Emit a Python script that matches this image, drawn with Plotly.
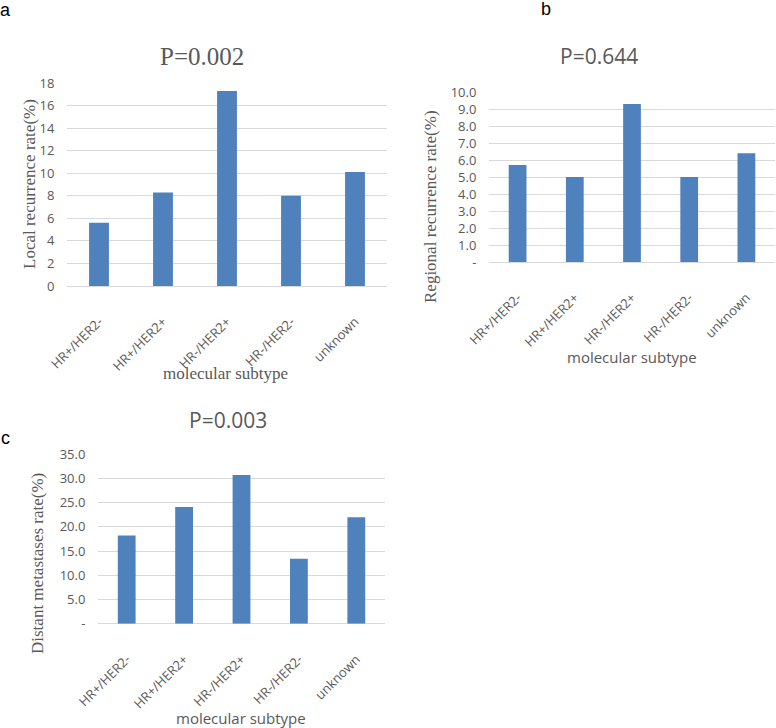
import plotly.graph_objects as go

# ---------------- data ----------------
categories = ["HR+/HER2-", "HR+/HER2+", "HR-/HER2+", "HR-/HER2-", "unknown"]
local_rate = [5.6, 8.3, 17.3, 8.0, 10.1]
regional_rate = [5.7, 5.0, 9.3, 5.0, 6.4]
distant_rate = [18.2, 24.1, 30.7, 13.4, 22.0]

local_tickvals = [0, 2, 4, 6, 8, 10, 12, 14, 16, 18]
local_ticktext = ["0", "2", "4", "6", "8", "10", "12", "14", "16", "18"]
regional_tickvals = [0, 1, 2, 3, 4, 5, 6, 7, 8, 9, 10]
regional_ticktext = ["-", "1.0", "2.0", "3.0", "4.0", "5.0", "6.0", "7.0", "8.0", "9.0", "10.0"]
distant_tickvals = [0, 5, 10, 15, 20, 25, 30, 35]
distant_ticktext = ["-", "5.0", "10.0", "15.0", "20.0", "25.0", "30.0", "35.0"]

titles = ["P=0.002", "P=0.644", "P=0.003"]
y_titles = ["Local recurrence rate(%)", "Regional recurrence rate(%)", "Distant metastases rate(%)"]
x_title = "molecular subtype"
panel_labels = ["a", "b", "c"]

# ---------------- style ----------------
W, H = 776, 728
BAR = "#4F81BD"
GRID = "#D9D9D9"
TXT = "#595959"
SANS = "Open Sans, Liberation Sans, sans-serif"
SERIF = "Liberation Serif, Times New Roman, serif"


def px_x(v):
    return v / W


def px_y(v):
    return 1 - v / H


fig = go.Figure()

panels = [
    dict(vals=local_rate, xd=(67, 387), yd=(286, 83), rng=[0, 18],
         tv=local_tickvals, tt=local_ticktext),
    dict(vals=regional_rate, xd=(489, 775), yd=(262, 92), rng=[0, 10],
         tv=regional_tickvals, tt=regional_ticktext),
    dict(vals=distant_rate, xd=(98, 385), yd=(623.7, 454.3), rng=[0, 35],
         tv=distant_tickvals, tt=distant_ticktext),
]

for i, p in enumerate(panels):
    n = "" if i == 0 else str(i + 1)
    fig.add_trace(go.Bar(
        x=categories, y=p["vals"], width=0.31,
        marker=dict(color=BAR, line=dict(width=0)),
        xaxis="x" + n, yaxis="y" + n, showlegend=False,
        hoverinfo="x+y",
    ))
    fig.update_layout({
        "xaxis" + n: dict(
            domain=[px_x(p["xd"][0]), min(1.0, px_x(p["xd"][1]))],
            anchor="y" + n, type="category", automargin=False,
            tickangle=-45, showgrid=False, showline=False, zeroline=False,
            ticks="outside", ticklen=22, tickcolor="rgba(0,0,0,0)",
            tickfont=dict(family=SANS, size=13, color=TXT),
        ),
        "yaxis" + n: dict(
            domain=[px_y(p["yd"][0]), px_y(p["yd"][1])],
            anchor="x" + n, range=p["rng"], automargin=False,
            tickmode="array", tickvals=p["tv"], ticktext=p["tt"],
            showgrid=True, gridcolor=GRID, gridwidth=1,
            zeroline=True, zerolinecolor=GRID, zerolinewidth=1,
            showline=False,
            ticks="outside", ticklen=9, tickcolor="rgba(0,0,0,0)",
            tickfont=dict(family=SANS, size=13, color=TXT),
        ),
    })

ann = []
# panel titles
ann.append(dict(text=titles[0], x=px_x(202), y=px_y(57),
                font=dict(family=SERIF, size=25, color=TXT)))
ann.append(dict(text=titles[1], x=px_x(599), y=px_y(56),
                font=dict(family=SANS, size=21, color=TXT)))
ann.append(dict(text=titles[2], x=px_x(228), y=px_y(420),
                font=dict(family=SANS, size=21, color=TXT)))
# y-axis titles
ann.append(dict(text=y_titles[0], x=px_x(29), y=px_y(184), textangle=-90,
                font=dict(family=SERIF, size=17, color=TXT)))
ann.append(dict(text=y_titles[1], x=px_x(430), y=px_y(207), textangle=-90,
                font=dict(family=SERIF, size=17, color=TXT)))
ann.append(dict(text=y_titles[2], x=px_x(37), y=px_y(564), textangle=-90,
                font=dict(family=SERIF, size=17, color=TXT)))
# x-axis titles
ann.append(dict(text=x_title, x=px_x(225), y=px_y(374),
                font=dict(family=SERIF, size=17, color=TXT)))
ann.append(dict(text=x_title, x=px_x(632), y=px_y(357),
                font=dict(family=SANS, size=15, color=TXT)))
ann.append(dict(text=x_title, x=px_x(241), y=px_y(718),
                font=dict(family=SANS, size=15, color=TXT)))
# panel letters
for lab, (lx, ly) in zip(panel_labels, [(5, 10), (546, 9), (5, 438)]):
    ann.append(dict(text=lab, x=px_x(lx), y=px_y(ly),
                    font=dict(family="Liberation Sans, Arial, sans-serif", size=18, color="#000000")))

for a in ann:
    a.update(xref="paper", yref="paper", xanchor="center", yanchor="middle",
             showarrow=False)

fig.update_layout(
    width=W, height=H,
    margin=dict(l=0, r=0, t=0, b=0),
    paper_bgcolor="white", plot_bgcolor="white",
    annotations=ann,
    bargap=0.69,
)

fig.write_html("out.html", config={"displayModeBar": False},
               post_script="document.body.style.margin='0';")
